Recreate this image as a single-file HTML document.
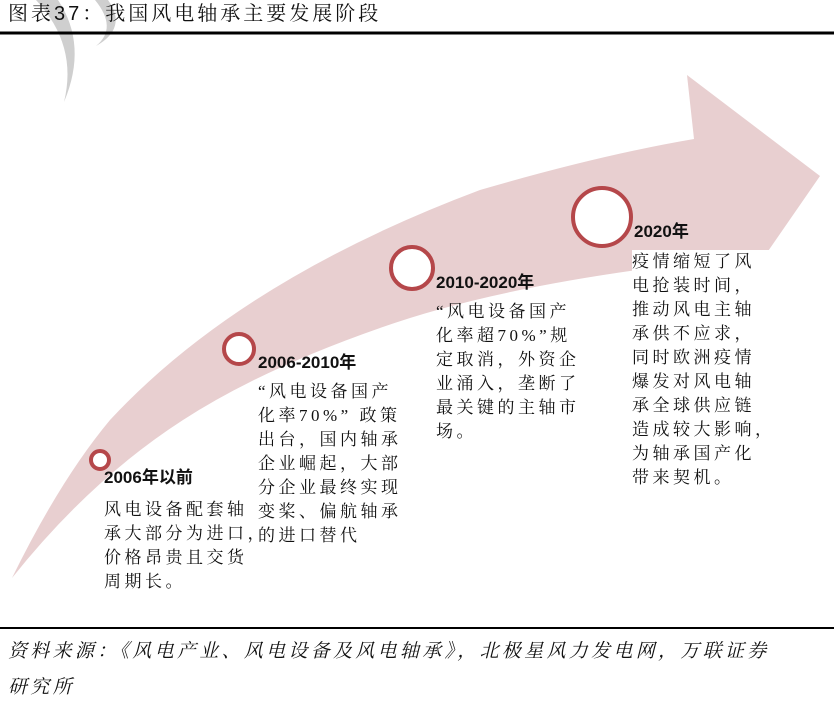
<!DOCTYPE html>
<html><head><meta charset="utf-8"><style>
body{margin:0;width:834px;height:699px;background:#fff;position:relative;overflow:hidden;font-family:"Liberation Sans","Noto Sans CJK SC",sans-serif;color:#111}
.t{position:absolute;font-size:17px;line-height:24px;letter-spacing:3.5px;white-space:pre;font-family:"Liberation Serif","Noto Serif CJK SC",serif}
.bx{background:#fff}
.h{position:absolute;font-size:17px;font-weight:bold;white-space:pre}
</style></head><body>
<svg width="834" height="699" style="position:absolute;left:0;top:0">
<path d="M36 0 Q78 45 64 102 Q88 45 58 0 Z M95 0 Q118 28 96 46 Q128 28 108 0Z" fill="#bbb" opacity="0.7"/>
<path d="M12 578 Q60 480 110 420 Q240 280 480 190 Q600 155 694 139 L687 75 L820 176 L717 325 L700 262 Q500 285 380 328 Q260 370 183 420 Q90 480 12 578 Z" fill="#e8cfd0"/>
<line x1="0" y1="33" x2="834" y2="33" stroke="#000" stroke-width="3"/>
<line x1="0" y1="628" x2="834" y2="628" stroke="#000" stroke-width="2"/>
<circle cx="100" cy="460" r="9" fill="#fff" stroke="#b5474a" stroke-width="4"/>
<circle cx="239" cy="349" r="15" fill="#fff" stroke="#b5474a" stroke-width="4"/>
<circle cx="412" cy="268" r="21" fill="#fff" stroke="#b5474a" stroke-width="4"/>
<circle cx="602" cy="217" r="29" fill="#fff" stroke="#b5474a" stroke-width="4"/>
</svg>
<div class="t" style="left:8px;top:2px;font-size:20px;letter-spacing:3px;font-family:'Liberation Sans','Noto Serif CJK SC',serif">图表37：我国风电轴承主要发展阶段</div>
<div class="h" style="left:104px;top:463px">2006年以前</div>
<div class="t bx" style="left:104px;top:498px">风电设备配套轴
承大部分为进口，
价格昂贵且交货
周期长。</div>
<div class="h" style="left:258px;top:348px">2006-2010年</div>
<div class="t" style="left:258px;top:380px">“风电设备国产
化率70%” 政策
出台，国内轴承
企业崛起，大部
分企业最终实现
变桨、偏航轴承
的进口替代</div>
<div class="h" style="left:436px;top:268px">2010-2020年</div>
<div class="t" style="left:436px;top:300px">“风电设备国产
化率超70%”规
定取消，外资企
业涌入，垄断了
最关键的主轴市
场。</div>
<div class="h" style="left:634px;top:217px">2020年</div>
<div class="t bx" style="left:632px;top:250px;padding-right:4px">疫情缩短了风
电抢装时间，
推动风电主轴
承供不应求，
同时欧洲疫情
爆发对风电轴
承全球供应链
造成较大影响，
为轴承国产化
带来契机。</div>
<div class="t" style="left:8px;top:634px;font-style:italic;font-size:19px;letter-spacing:3.3px;line-height:36px">资料来源：《风电产业、风电设备及风电轴承》，北极星风力发电网，万联证券
研究所</div>
</body></html>
